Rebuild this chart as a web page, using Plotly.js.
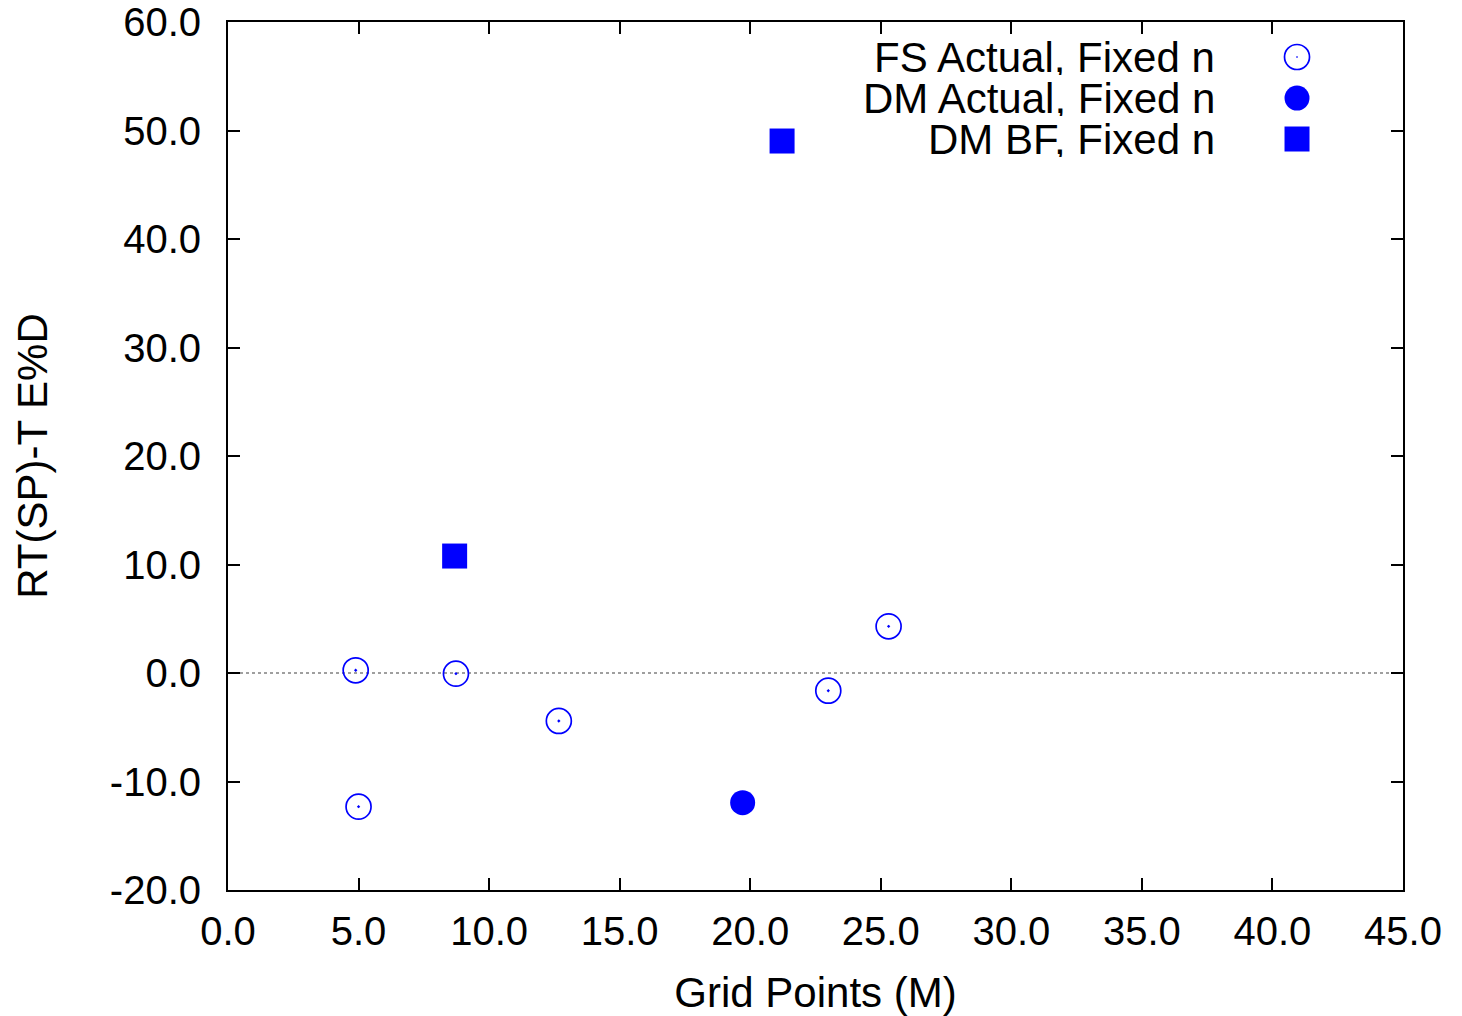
<!DOCTYPE html>
<html>
<head>
<meta charset="utf-8">
<script src="https://cdn.plot.ly/plotly-3.0.1.min.js"></script>
<style>html,body{margin:0;padding:0;background:#fff;}#chart{width:1462px;height:1016px;}</style>
</head>
<body>
<div id="chart"></div>
<script>
// ---- data ----
const fsActualX = [4.89, 5.00, 8.73, 12.67, 22.99, 25.30];
const fsActualY = [0.25, -12.32, -0.06, -4.42, -1.63, 4.30];
const dmActualX = [19.71];
const dmActualY = [-11.95];
const dmBfX = [8.68, 21.22];
const dmBfY = [10.78, 49.03];
const seriesNames = ["FS Actual, Fixed n", "DM Actual, Fixed n", "DM BF, Fixed n"];
const xTickVals = [0, 5, 10, 15, 20, 25, 30, 35, 40, 45];
const xTickText = ["0.0", "5.0", "10.0", "15.0", "20.0", "25.0", "30.0", "35.0", "40.0", "45.0"];
const yTickVals = [-20, -10, 0, 10, 20, 30, 40, 50, 60];
const yTickText = ["-20.0", "-10.0", "0.0", "10.0", "20.0", "30.0", "40.0", "50.0", "60.0"];

const BLUE = "#0000ff";
const FONT = "Liberation Sans, Arial, Helvetica, sans-serif";
const TICKFS = 40;
const TEXTFS = 42;

const traces = [
  {x: fsActualX, y: fsActualY, type: "scatter", mode: "markers", name: seriesNames[0],
   marker: {symbol: "circle-open-dot", size: 25, color: BLUE, line: {color: BLUE, width: 1.7}}},
  {x: dmActualX, y: dmActualY, type: "scatter", mode: "markers", name: seriesNames[1],
   marker: {symbol: "circle", size: 25, color: BLUE, line: {width: 0}}},
  {x: dmBfX, y: dmBfY, type: "scatter", mode: "markers", name: seriesNames[2],
   marker: {symbol: "square", size: 25, color: BLUE, line: {width: 0}}}
];

// custom gnuplot-style legend: text right-aligned, symbol to the right
const legX = 0.8412, symX = 0.9098;
const legY = [0.9597, 0.9124, 0.8652];
const annotations = seriesNames.map((n, i) => ({
  text: n, xref: "paper", yref: "paper", x: legX, y: legY[i],
  xanchor: "right", yanchor: "middle", showarrow: false,
  height: 36, valign: "middle", borderpad: 0,
  font: {family: FONT, size: TEXTFS, color: "#000"}
}));
const shapes = [
  {type: "line", xref: "paper", yref: "y", x0: 0, x1: 1, y0: 0, y1: 0,
   line: {color: "#808080", width: 1.5, dash: "dot"}, layer: "below"},
  {type: "circle", xref: "paper", yref: "paper", xsizemode: "pixel", ysizemode: "pixel",
   xanchor: symX, yanchor: legY[0], x0: -12.5, x1: 12.5, y0: -12.5, y1: 12.5,
   line: {color: BLUE, width: 1.7}, fillcolor: "rgba(0,0,0,0)"},
  {type: "circle", xref: "paper", yref: "paper", xsizemode: "pixel", ysizemode: "pixel",
   xanchor: symX, yanchor: legY[0], x0: -0.6, x1: 0.6, y0: -0.6, y1: 0.6,
   line: {color: BLUE, width: 0.5}, fillcolor: BLUE},
  {type: "circle", xref: "paper", yref: "paper", xsizemode: "pixel", ysizemode: "pixel",
   xanchor: symX, yanchor: legY[1], x0: -12.5, x1: 12.5, y0: -12.5, y1: 12.5,
   line: {width: 0}, fillcolor: BLUE},
  {type: "rect", xref: "paper", yref: "paper", xsizemode: "pixel", ysizemode: "pixel",
   xanchor: symX, yanchor: legY[2], x0: -12.5, x1: 12.5, y0: -12.5, y1: 12.5,
   line: {width: 0}, fillcolor: BLUE}
];

const axisCommon = {
  showline: true, linecolor: "#000", linewidth: 2, mirror: "allticks",
  ticks: "inside", ticklen: 12, tickwidth: 2, tickcolor: "#000",
  showgrid: false, zeroline: false, tickmode: "array",
  tickfont: {family: FONT, size: TICKFS, color: "#000"}
};

const layout = {
  width: 1462, height: 1016,
  margin: {l: 228, r: 59, t: 22, b: 126, autoexpand: false},
  paper_bgcolor: "#fff", plot_bgcolor: "#fff",
  showlegend: false,
  font: {family: FONT, size: TICKFS, color: "#000"},
  xaxis: Object.assign({}, axisCommon, {
    range: [0, 45], tickvals: xTickVals, ticktext: xTickText,
    ticklabelstandoff: 5,
    title: {text: "Grid Points (M)", font: {family: FONT, size: TEXTFS, color: "#000"}, standoff: 28}
  }),
  yaxis: Object.assign({}, axisCommon, {
    range: [-20, 60], tickvals: yTickVals, ticktext: yTickText,
    ticklabelstandoff: 17,
    title: {text: "RT(SP)-T E%D", font: {family: FONT, size: TEXTFS, color: "#000"}, standoff: 49}
  }),
  annotations: annotations,
  shapes: shapes
};

Plotly.newPlot("chart", traces, layout, {displayModeBar: false, staticPlot: true});
</script>
</body>
</html>
